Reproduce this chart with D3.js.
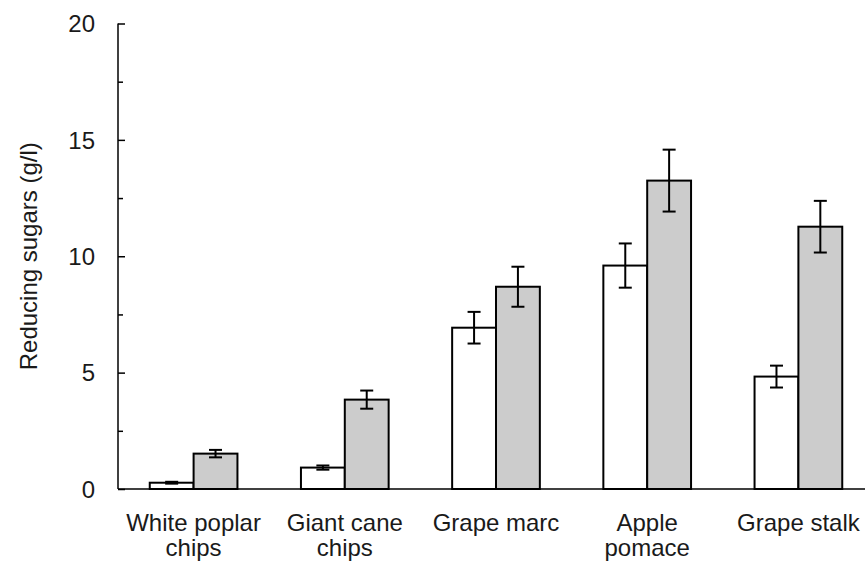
<!DOCTYPE html>
<html>
<head>
<meta charset="utf-8">
<script src="https://cdn.jsdelivr.net/npm/d3@7"></script>
<style>
  html, body { margin: 0; padding: 0; background: #fff; }
  svg text { font-family: "Liberation Sans", Arial, sans-serif; fill: #1a1a1a; }
</style>
</head>
<body>
<svg id="chart" width="865" height="561"></svg>
<script>
// Substrates (two-line labels split on "\n")
const categories = ["White poplar\nchips", "Giant cane\nchips", "Grape marc", "Apple\npomace", "Grape stalk"];
// Reducing sugars, g/l: first (white) and second (grey) series
const seriesA = [0.27, 0.92, 6.93, 9.60, 4.83];
const seriesAErr = [0.04, 0.09, 0.68, 0.95, 0.47];
const seriesB = [1.52, 3.84, 8.69, 13.25, 11.27];
const seriesBErr = [0.16, 0.39, 0.86, 1.33, 1.11];
const seriesKeys = ["A", "B"];
const yTicks = [0, 5, 10, 15, 20];
const yMinorTicks = [2.5, 7.5, 12.5, 17.5];

const svg = d3.select("#chart");
const axisX = 118, baseY = 489, topY = 23.5;

const y = d3.scaleLinear().domain([0, 20]).range([baseY, topY]);
const x = d3.scaleBand().domain(categories).range([axisX, 874])
  .paddingInner(0.42).paddingOuter(0.21);
const x1 = d3.scaleBand().domain(seriesKeys).range([0, x.bandwidth()]);

const rows = categories.map((c, i) => ({
  cat: c,
  vals: [
    { key: "A", v: seriesA[i], e: seriesAErr[i], fill: "#ffffff" },
    { key: "B", v: seriesB[i], e: seriesBErr[i], fill: "#cccccc" }
  ]
}));

// Bars
const g = svg.append("g");
const groups = g.selectAll("g.grp").data(rows).join("g")
  .attr("class", "grp")
  .attr("transform", d => `translate(${x(d.cat)},0)`);

groups.selectAll("rect").data(d => d.vals).join("rect")
  .attr("x", d => x1(d.key))
  .attr("y", d => y(d.v))
  .attr("width", x1.bandwidth())
  .attr("height", d => y(0) - y(d.v))
  .attr("fill", d => d.fill)
  .attr("stroke", "#000")
  .attr("stroke-width", 2);

// Error bars
const capHalf = 6.5;
const eb = groups.selectAll("g.err").data(d => d.vals).join("g").attr("class", "err")
  .attr("stroke", "#000").attr("stroke-width", 2);
eb.append("line")
  .attr("x1", d => x1(d.key) + x1.bandwidth() / 2)
  .attr("x2", d => x1(d.key) + x1.bandwidth() / 2)
  .attr("y1", d => y(d.v + d.e))
  .attr("y2", d => y(d.v - d.e));
eb.append("line")
  .attr("x1", d => x1(d.key) + x1.bandwidth() / 2 - capHalf)
  .attr("x2", d => x1(d.key) + x1.bandwidth() / 2 + capHalf)
  .attr("y1", d => y(d.v + d.e)).attr("y2", d => y(d.v + d.e));
eb.append("line")
  .attr("x1", d => x1(d.key) + x1.bandwidth() / 2 - capHalf)
  .attr("x2", d => x1(d.key) + x1.bandwidth() / 2 + capHalf)
  .attr("y1", d => y(d.v - d.e)).attr("y2", d => y(d.v - d.e));

// Y axis with inward ticks
const yAxis = d3.axisRight(y).tickValues(yTicks).tickSize(7).tickFormat("");
const yg = svg.append("g").attr("transform", `translate(${axisX},0)`).call(yAxis);
yg.select(".domain").attr("d", `M0,${topY}V${baseY}`).attr("stroke", "#000").attr("stroke-width", 1.5);
yg.selectAll(".tick line").attr("stroke", "#000").attr("stroke-width", 1.5);

const yMinor = d3.axisRight(y).tickValues(yMinorTicks).tickSize(5).tickFormat("");
const ym = svg.append("g").attr("transform", `translate(${axisX},0)`).call(yMinor);
ym.select(".domain").remove();
ym.selectAll(".tick line").attr("stroke", "#000").attr("stroke-width", 1.5);

svg.append("g").selectAll("text").data(yTicks).join("text")
  .attr("x", 95)
  .attr("y", d => y(d))
  .attr("dy", "0.36em")
  .attr("text-anchor", "end")
  .attr("font-size", 24)
  .text(d => d);

// X axis baseline
const xAxis = d3.axisBottom(x).tickSize(0).tickFormat("");
const xg = svg.append("g").attr("transform", `translate(0,${baseY})`).call(xAxis);
xg.select(".domain").attr("d", `M${axisX},0H865`).attr("stroke", "#000").attr("stroke-width", 1.5);

// Category labels
const lbl = svg.append("g").selectAll("text").data(categories).join("text")
  .attr("text-anchor", "middle")
  .attr("font-size", 24)
  .attr("x", d => x(d) + x.bandwidth() / 2)
  .attr("y", 531);
lbl.selectAll("tspan").data(d => d.split("\n")).join("tspan")
  .attr("x", function () { return d3.select(this.parentNode).attr("x"); })
  .attr("dy", (d, i) => i === 0 ? 0 : 25)
  .text(d => d);

// Y axis title
svg.append("text")
  .attr("transform", `translate(37,${(baseY + topY) / 2}) rotate(-90)`)
  .attr("text-anchor", "middle")
  .attr("font-size", 24)
  .text("Reducing sugars (g/l)");
</script>
</body>
</html>
